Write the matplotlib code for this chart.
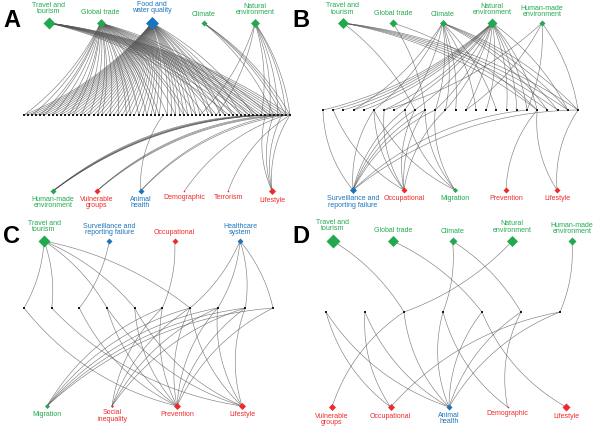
import numpy as np
import matplotlib.pyplot as plt

plt.rcParams['font.family'] = ['Liberation Sans', 'DejaVu Sans']

# colour groups: g = environment, b = health system, r = social / behaviour
colours = {'g': '#22a94f', 'b': '#1c74bb', 'r': '#ee2a2a'}

# ---- panel A ----
a_top = ['Travel and\ntourism', 'Global trade', 'Food and\nwater quality', 'Climate', 'Natural\nenvironment']
a_top_grp = ['g', 'g', 'b', 'g', 'g']
a_bottom = ['Human-made\nenvironment', 'Vulnerable\ngroups', 'Animal\nhealth', 'Demographic', 'Terrorism', 'Lifestyle']
a_bottom_grp = ['g', 'r', 'b', 'r', 'r', 'r']
a_n_mid = 66
a_top_links = [
    [50, 52, 54, 55, 56, 57, 58, 59, 60, 61, 62, 63, 64, 65],
    [0, 2, 4, 5, 7, 9, 11, 12, 14, 16, 18, 19, 21, 23, 25, 26, 28, 30, 32, 33, 35, 37, 39, 40, 42, 44, 46, 47, 49, 51, 53, 55, 57, 60],
    [0, 1, 2, 3, 4, 5, 6, 7, 8, 9, 10, 11, 12, 13, 14, 15, 16, 17, 18, 19, 20, 21, 22, 23, 24, 25, 26, 27, 28, 29,
     30, 31, 32, 33, 35, 36, 37, 38, 39, 40, 41, 42, 43, 45, 46, 48, 49, 51, 53, 56],
    [61, 63, 64, 65],
    [43, 47, 58, 60, 62, 64, 65],
]
a_bottom_links = [
    [58, 60, 62, 63, 64, 65],
    [61, 63, 65],
    [34, 62, 64],
    [64],
    [65],
    [59, 61, 63, 65],
]

# ---- panel B ----
b_top = ['Travel and\ntourism', 'Global trade', 'Climate', 'Natural\nenvironment', 'Human-made\nenvironment']
b_top_grp = ['g', 'g', 'g', 'g', 'g']
b_bottom = ['Surveillance and\nreporting failure', 'Occupational', 'Migration', 'Prevention', 'Lifestyle']
b_bottom_grp = ['b', 'r', 'g', 'r', 'r']
b_n_mid = 26
b_top_links = [
    [9, 21, 22, 23, 24, 25],
    [10, 21],
    [3, 5, 8, 11, 12, 13, 15, 17, 22, 23, 24, 25],
    [0, 1, 2, 3, 4, 6, 7, 9, 11, 12, 14, 16, 18, 19, 20, 21, 24],
    [6, 14, 20, 25],
]
b_bottom_links = [
    [0, 5, 8, 9, 10, 11, 20, 25],
    [1, 5, 6, 9, 10, 12],
    [5, 8, 10, 11],
    [21],
    [21, 25],
]

# ---- panel C ----
c_top = ['Travel and\ntourism', 'Surveillance and\nreporting failure', 'Occupational', 'Healthcare\nsystem']
c_top_grp = ['g', 'b', 'r', 'b']
c_bottom = ['Migration', 'Social\ninequality', 'Prevention', 'Lifestyle']
c_bottom_grp = ['g', 'r', 'r', 'r']
c_n_mid = 10
c_top_links = [[0, 1, 3, 4, 6], [2], [5], [6, 7, 8, 9]]
c_bottom_links = [
    [5, 6, 7, 8, 9],
    [5, 6, 7, 8],
    [0, 2, 3, 4, 5, 6, 7, 8, 9],
    [1, 3, 4, 6, 7, 8],
]

# ---- panel D ----
d_top = ['Travel and\ntourism', 'Global trade', 'Climate', 'Natural\nenvironment', 'Human-made\nenvironment']
d_top_grp = ['g', 'g', 'g', 'g', 'g']
d_bottom = ['Vulnerable\ngroups', 'Occupational', 'Animal\nhealth', 'Demographic', 'Lifestyle']
d_bottom_grp = ['r', 'r', 'b', 'r', 'r']
d_n_mid = 7
d_top_links = [[2], [4], [3, 5], [2], [6]]
d_bottom_links = [[2], [0, 1, 6], [0, 1, 2, 3, 4, 5, 6], [3, 5], [4]]

# layout (pixel units): row spans (x0, x1, y) and diamond widths in px
panels = [
    dict(letter='A', top=a_top, top_grp=a_top_grp, bottom=a_bottom, bottom_grp=a_bottom_grp,
         n_mid=a_n_mid, top_links=a_top_links, bottom_links=a_bottom_links,
         top_row=(49, 255, 23), mid_row=(24, 290, 115), bottom_row=(53, 272, 191),
         top_w=[12, 9, 13, 6, 9], bottom_w=[6, 6, 6, 2, 2, 7], letter_xy=(3, 27)),
    dict(letter='B', top=b_top, top_grp=b_top_grp, bottom=b_bottom, bottom_grp=b_bottom_grp,
         n_mid=b_n_mid, top_links=b_top_links, bottom_links=b_bottom_links,
         top_row=(343, 542, 23), mid_row=(323, 578, 110), bottom_row=(353, 557, 190),
         top_w=[11, 8, 7, 10, 6], bottom_w=[7, 6, 5, 6, 6], letter_xy=(292, 27)),
    dict(letter='C', top=c_top, top_grp=c_top_grp, bottom=c_bottom, bottom_grp=c_bottom_grp,
         n_mid=c_n_mid, top_links=c_top_links, bottom_links=c_bottom_links,
         top_row=(44, 240, 241), mid_row=(24, 273, 308), bottom_row=(47, 242, 406),
         top_w=[12, 6, 6, 6], bottom_w=[5, 3, 7, 7], letter_xy=(3, 243)),
    dict(letter='D', top=d_top, top_grp=d_top_grp, bottom=d_bottom, bottom_grp=d_bottom_grp,
         n_mid=d_n_mid, top_links=d_top_links, bottom_links=d_bottom_links,
         top_row=(333, 572, 241), mid_row=(326, 560, 312), bottom_row=(332, 566, 407),
         top_w=[14, 11, 8, 11, 8], bottom_w=[7, 7, 6, 2, 8], letter_xy=(292, 243)),
]


def curve(p0, p1, rad, n=40):
    p0 = np.asarray(p0, float)
    p1 = np.asarray(p1, float)
    d = p1 - p0
    ctrl = (p0 + p1) / 2 + rad * np.array([d[1], -d[0]])
    t = np.linspace(0, 1, n)[:, None]
    return (1 - t) ** 2 * p0 + 2 * (1 - t) * t * ctrl + t ** 2 * p1


fig = plt.figure(figsize=(6, 4.37), dpi=100)
ax = fig.add_axes([0, 0, 1, 1])
ax.set_xlim(0, 600)
ax.set_ylim(437, 0)
ax.axis('off')

for p in panels:
    tx = np.linspace(p['top_row'][0], p['top_row'][1], len(p['top']))
    mx = np.linspace(p['mid_row'][0], p['mid_row'][1], p['n_mid'])
    bx = np.linspace(p['bottom_row'][0], p['bottom_row'][1], len(p['bottom']))
    ty, my, by = p['top_row'][2], p['mid_row'][2], p['bottom_row'][2]

    # edges
    for i, links in enumerate(p['top_links']):
        for j in links:
            c = curve((tx[i], ty), (mx[j], my), 0.12)
            ax.plot(c[:, 0], c[:, 1], color='#555555', lw=0.45, alpha=0.75, zorder=1)
    for i, links in enumerate(p['bottom_links']):
        for j in links:
            c = curve((mx[j], my), (bx[i], by), -0.17)
            ax.plot(c[:, 0], c[:, 1], color='#555555', lw=0.45, alpha=0.75, zorder=1)

    # middle nodes
    ax.scatter(mx, np.full(p['n_mid'], my), marker='s', s=2.2, color='#1a1a1a', lw=0, zorder=3)

    # factor nodes and labels
    for names, grp, xs, y, widths, up in [(p['top'], p['top_grp'], tx, ty, p['top_w'], True),
                                          (p['bottom'], p['bottom_grp'], bx, by, p['bottom_w'], False)]:
        for name, g, x, w in zip(names, grp, xs, widths):
            col = colours[g]
            ax.scatter([x], [y], marker='D', s=(w / 1.96) ** 2, color=col, lw=0, zorder=4)
            if up:
                ax.text(x, y - w / 2 - 2, name, ha='center', va='bottom', fontsize=5.0,
                        color=col, linespacing=0.85, zorder=5)
            else:
                ax.text(x, y + w / 2 + 2, name, ha='center', va='top', fontsize=5.0,
                        color=col, linespacing=0.85, zorder=5)

    ax.text(p['letter_xy'][0], p['letter_xy'][1], p['letter'], fontsize=17, fontweight='bold',
            ha='left', va='baseline', color='black')

fig.savefig('out.png', dpi=100)
